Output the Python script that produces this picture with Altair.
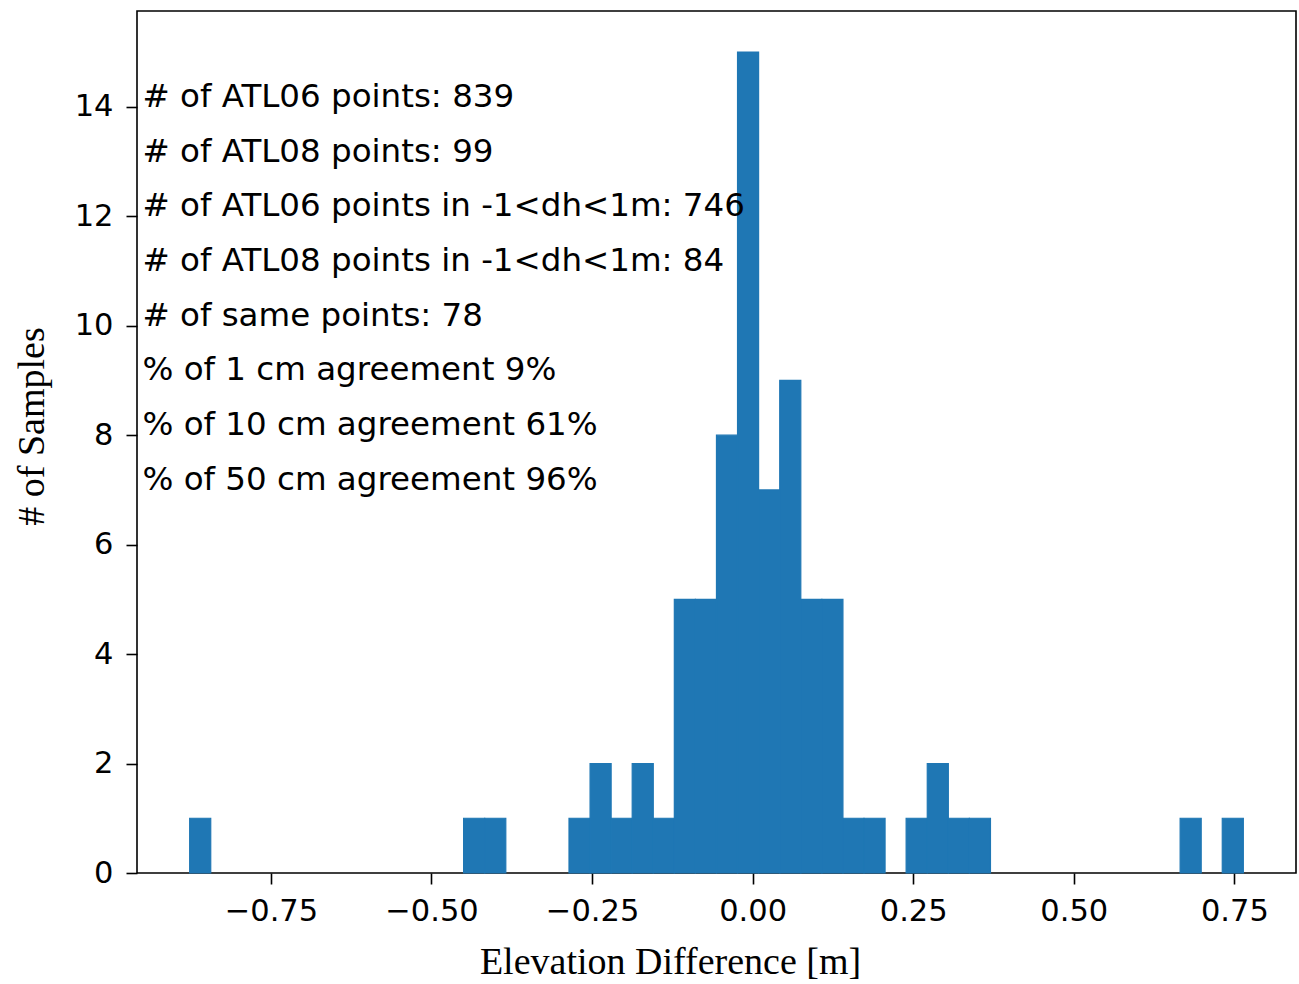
import altair as alt
import pandas as pd

# Histogram bins (edges in m) and counts
bin_lo = [-0.8765, -0.4500, -0.4172, -0.2859, -0.2531, -0.2203, -0.1875, -0.1547,
          -0.1219, -0.0891, -0.0563, -0.0235, 0.0093, 0.0422, 0.0750, 0.1078,
          0.1406, 0.1734, 0.2390, 0.2719, 0.3047, 0.3375, 0.6656, 0.7312]
bin_hi = [-0.8437, -0.4172, -0.3843, -0.2531, -0.2203, -0.1875, -0.1547, -0.1219,
          -0.0891, -0.0563, -0.0235, 0.0093, 0.0422, 0.0750, 0.1078, 0.1406,
          0.1734, 0.2062, 0.2719, 0.3047, 0.3375, 0.3703, 0.6984, 0.7640]
counts = [1, 1, 1, 1, 2, 1, 2, 1,
          5, 5, 8, 15, 7, 9, 5, 5,
          1, 1, 1, 2, 1, 1, 1, 1]

# Annotation lines and their anchor (data coordinates)
notes = [
    "# of ATL06 points: 839",
    "# of ATL08 points: 99",
    "# of ATL06 points in -1<dh<1m: 746",
    "# of ATL08 points in -1<dh<1m: 84",
    "# of same points: 78",
    "% of 1 cm agreement 9%",
    "% of 10 cm agreement 61%",
    "% of 50 cm agreement 96%",
]
note_x = [-0.95] * 8
note_y = [14, 13, 12, 11, 10, 9, 8, 7]

x_ticks = [-0.75, -0.5, -0.25, 0.0, 0.25, 0.5, 0.75]
y_ticks = [0, 2, 4, 6, 8, 10, 12, 14]
x_domain = [-0.9585, 0.846]
y_domain = [0, 15.75]

bars_df = pd.DataFrame({"lo": bin_lo, "hi": bin_hi, "n": counts})
notes_df = pd.DataFrame({"t": notes, "x": note_x, "y": note_y})

xscale = alt.Scale(domain=x_domain, nice=False, zero=False)
yscale = alt.Scale(domain=y_domain, nice=False, zero=False)

bars = alt.Chart(bars_df).mark_rect(
    color="#1f77b4", stroke="#1f77b4", strokeWidth=1.2
).encode(
    x=alt.X("lo:Q", scale=xscale,
            axis=alt.Axis(values=x_ticks, format=".2f", title="Elevation Difference [m]",
                          titleX=533, titleY=100, titleAlign="center",
                          titleBaseline="alphabetic", labelPadding=12)),
    x2="hi:Q",
    y=alt.Y("n:Q", scale=yscale,
            axis=alt.Axis(values=y_ticks, format="d", title="# of Samples",
                          titleAngle=270, titleX=-94, titleY=415, titleAlign="center",
                          titleBaseline="alphabetic", labelPadding=13)),
    y2=alt.datum(0),
)

texts = alt.Chart(notes_df).mark_text(
    align="left", baseline="alphabetic", font="DejaVu Sans", fontSize=32.5, color="black"
).encode(
    x=alt.X("x:Q", scale=xscale),
    y=alt.Y("y:Q", scale=yscale),
    text="t:N",
)

chart = alt.layer(bars, texts).properties(
    width=1159, height=862,
    autosize=alt.AutoSizeParams(type="none"),
    padding={"left": 137, "top": 11, "right": 3, "bottom": 111},
    background="white",
).configure_view(
    stroke="black", strokeWidth=1.6
).configure_axis(
    grid=False, domain=False, ticks=True, tickColor="black", tickWidth=1.6, tickSize=11,
    labelColor="black", labelFont="DejaVu Sans", labelFontSize=30.5,
    titleColor="black", titleFont="Liberation Serif", titleFontSize=38,
    titleFontWeight="normal",
)

chart.save("out.html", embed_options={"renderer": "svg", "actions": False})
